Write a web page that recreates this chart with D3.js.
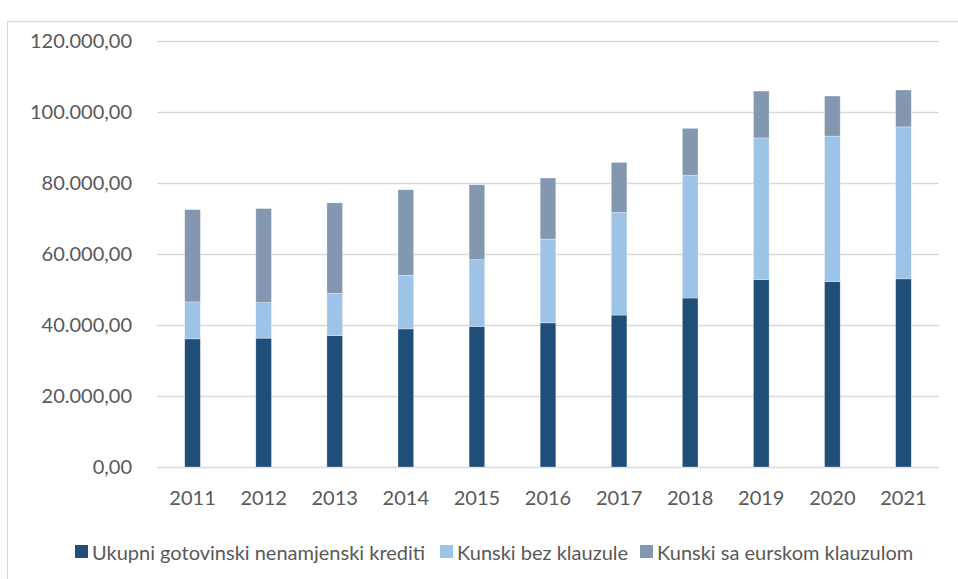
<!DOCTYPE html>
<html>
<head>
<meta charset="utf-8">
<script src="https://cdn.jsdelivr.net/npm/d3@7/dist/d3.min.js"></script>
<style>
  html, body { margin: 0; padding: 0; background: #fff; }
  svg { display: block; }
</style>
</head>
<body>
<div id="chart"></div>
<script>
// Podaci (u tisućama, očitano sa slike)
const years = ["2011", "2012", "2013", "2014", "2015", "2016", "2017", "2018", "2019", "2020", "2021"];
const ukupni = [36100, 36300, 37000, 38900, 39600, 40600, 42800, 47600, 52800, 52200, 53000];
const bezKlauzule = [10400, 10000, 11900, 15100, 18800, 23600, 28900, 34600, 39900, 41000, 42800];
const saKlauzulom = [26000, 26500, 25500, 24100, 21100, 17200, 14100, 13200, 13200, 11300, 10400];
const seriesNames = ["Ukupni gotovinski nenamjenski krediti", "Kunski bez klauzule", "Kunski sa eurskom klauzulom"];
const yTicks = [0, 20000, 40000, 60000, 80000, 100000, 120000];

function init() {
    const w = 958, h = 579;
    const left = 157, right = 939, top = 41, bottom = 467;
    const colors = ["#1F4E79", "#9DC3E6", "#8497B0"];
    const textColor = "#595959";
    const font = "Lato, 'Open Sans', sans-serif";

    const rows = years.map((y, i) => ({ year: y, s0: ukupni[i], s1: bezKlauzule[i], s2: saKlauzulom[i] }));
    const keys = ["s0", "s1", "s2"];

    const svg = d3.select("#chart").append("svg")
        .attr("width", w)
        .attr("height", h);

    // okvir grafikona
    svg.append("rect")
        .attr("x", 7.5).attr("y", 21.5)
        .attr("width", 1000).attr("height", 1000)
        .attr("fill", "none")
        .attr("stroke", "#d9d9d9")
        .attr("stroke-width", 1.2);

    const x = d3.scaleBand()
        .domain(years)
        .range([left, right])
        .paddingInner(0.78)
        .paddingOuter(0.39);

    const y = d3.scaleLinear()
        .domain([0, 120000])
        .range([bottom, top]);

    // mreža
    svg.append("g")
        .attr("transform", `translate(${left},0)`)
        .call(d3.axisLeft(y).tickValues(yTicks).tickSize(-(right - left)).tickFormat(""))
        .call(g => g.select(".domain").remove())
        .selectAll("line")
        .attr("stroke", "#d9d9d9")
        .attr("stroke-width", 1.5);

    // naslagani stupci
    const stacked = d3.stack().keys(keys)(rows);
    svg.selectAll("g.stack")
        .data(stacked)
        .enter()
        .append("g")
        .attr("class", "stack")
        .attr("fill", (d, i) => colors[i])
        .selectAll("rect")
        .data(d => d)
        .enter()
        .append("rect")
        .attr("x", d => x(d.data.year))
        .attr("y", d => y(d[1]))
        .attr("width", x.bandwidth())
        .attr("height", d => y(d[0]) - y(d[1]))
        .attr("stroke", "#ffffff")
        .attr("stroke-opacity", 0.5)
        .attr("stroke-width", 0.6);

    // Y oznake
    const fmt = v => {
        const s = d3.format(",.2f")(v);
        return s.replace(/,/g, "#").replace(".", ",").replace(/#/g, ".");
    };
    const yAxis = svg.append("g")
        .attr("transform", `translate(${left},0)`)
        .call(d3.axisLeft(y).tickValues(yTicks).tickSize(0).tickPadding(25).tickFormat(fmt));
    yAxis.select(".domain").remove();
    yAxis.selectAll("text")
        .attr("fill", textColor)
        .attr("font-family", font)
        .attr("font-size", "20px")
        .attr("dy", "0.3em");

    // X oznake
    const xAxis = svg.append("g")
        .attr("transform", `translate(0,${bottom})`)
        .call(d3.axisBottom(x).tickSize(0).tickPadding(24));
    xAxis.select(".domain").remove();
    xAxis.selectAll("text")
        .attr("fill", textColor)
        .attr("font-family", font)
        .attr("font-size", "20px");

    // legenda
    const legendX = [75, 440, 640];
    const legend = svg.append("g");
    seriesNames.forEach((name, i) => {
        legend.append("rect")
            .attr("x", legendX[i])
            .attr("y", 545)
            .attr("width", 13)
            .attr("height", 13)
            .attr("fill", colors[i]);
        legend.append("text")
            .attr("x", legendX[i] + 17)
            .attr("y", 560)
            .attr("fill", textColor)
            .attr("font-family", font)
            .attr("font-size", "20px")
            .text(name);
    });
}

window.onload = init;
</script>
</body>
</html>
